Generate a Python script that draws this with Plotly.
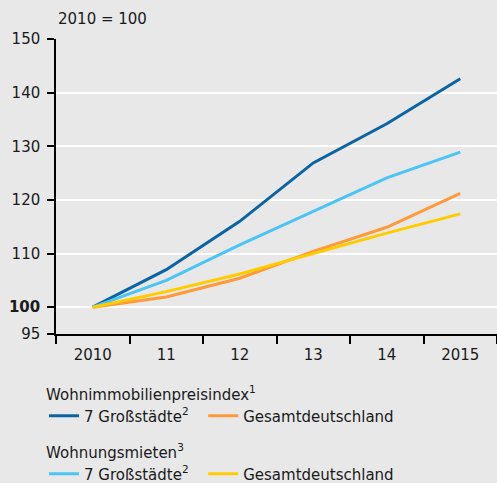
import plotly.graph_objects as go

years = ["2010", "11", "12", "13", "14", "2015"]
preis_7 = [100, 107.0, 116.0, 126.9, 134.2, 142.6]
preis_de = [100, 101.9, 105.4, 110.4, 114.9, 121.2]
miete_7 = [100, 105.0, 111.6, 117.8, 124.1, 128.9]
miete_de = [100, 102.9, 106.2, 110.0, 113.8, 117.4]
y_ticks = [95, 100, 110, 120, 130, 140, 150]
y_text = ["95", "<b>100</b>", "110", "120", "130", "140", "150"]

BG = "#e8e8e8"
FONT = "DejaVu Sans, sans-serif"
PAD = "\u00a0" * 2

fig = go.Figure()
fig.add_trace(go.Scatter(x=years, y=preis_7, mode="lines", name="7 Großstädte<sup>2</sup>" + PAD,
                         line=dict(color="#0a64a3", width=3), legend="legend"))
fig.add_trace(go.Scatter(x=years, y=preis_de, mode="lines", name="Gesamtdeutschland",
                         line=dict(color="#ff9a3a", width=3), legend="legend"))
fig.add_trace(go.Scatter(x=years, y=miete_7, mode="lines", name="7 Großstädte<sup>2</sup>" + PAD,
                         line=dict(color="#4cc4f4", width=3), legend="legend2"))
fig.add_trace(go.Scatter(x=years, y=miete_de, mode="lines", name="Gesamtdeutschland",
                         line=dict(color="#ffcc00", width=3), legend="legend2"))

fig.add_shape(type="line", xref="paper", x0=0, x1=1, yref="y", y0=100, y1=100,
              line=dict(color="black", width=1.5), layer="below")

leg_common = dict(orientation="h", xanchor="left", yanchor="top",
                  xref="container", yref="container",
                  bgcolor="rgba(0,0,0,0)", font=dict(size=15, color="#1a1a1a"),
                  tracegroupgap=0, itemwidth=30)

fig.update_layout(
    width=497, height=483,
    margin=dict(l=56, r=0, t=39, b=149, autoexpand=False),
    paper_bgcolor=BG, plot_bgcolor=BG,
    font=dict(family=FONT, size=15, color="#1a1a1a"),
    showlegend=True,
    legend=dict(x=44 / 497, y=1 - 380 / 483,
                title=dict(text="Wohnimmobilienpreisindex<sup>1</sup>", side="top",
                           font=dict(size=15)), **leg_common),
    legend2=dict(x=44 / 497, y=1 - 438 / 483,
                 title=dict(text="Wohnungsmieten<sup>3</sup>", side="top",
                            font=dict(size=15)), **leg_common),
    xaxis=dict(type="category", range=[-0.5, 5.5], tickson="boundaries",
               ticks="outside", ticklen=8, tickcolor="black", tickwidth=1.5,
               ticklabelstandoff=6,
               showline=True, linecolor="black", linewidth=1.5,
               showgrid=False, zeroline=False, fixedrange=True),
    yaxis=dict(range=[95, 150], tickvals=y_ticks, ticktext=y_text,
               ticks="outside", ticklen=7, tickcolor="black", tickwidth=1.5,
               ticklabelstandoff=4,
               showline=True, linecolor="black", linewidth=1.5,
               showgrid=True, gridcolor="white", gridwidth=2, zeroline=False),
    annotations=[dict(text="2010 = 100", xref="paper", yref="paper", x=0.0, y=1.03,
                      xanchor="left", yanchor="bottom", showarrow=False,
                      font=dict(size=15))],
)

fig.write_html("out.html", post_script="document.body.style.margin='0';",
               config={"displayModeBar": False})
